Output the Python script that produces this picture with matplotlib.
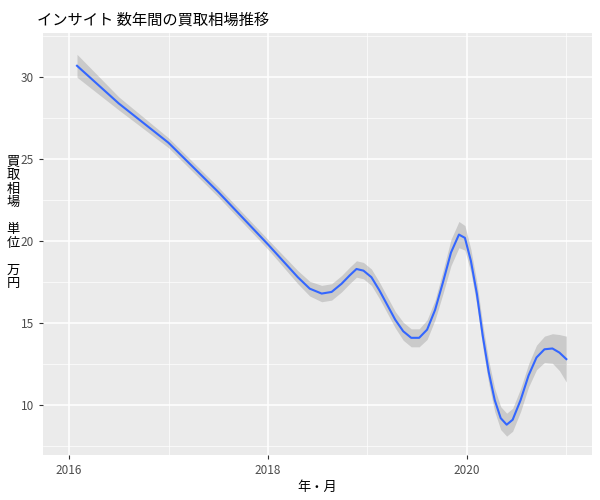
import matplotlib
matplotlib.use("Agg")
import matplotlib.pyplot as plt
from matplotlib.ticker import MultipleLocator

plt.rcParams["font.family"] = ["Noto Sans CJK JP", "DejaVu Sans"]

# smoothed fit (decimal year, price in 万円, CI half-width)
years = [2016.08, 2016.5, 2017.0, 2017.5, 2018.0, 2018.15, 2018.3, 2018.42, 2018.54, 2018.64,
         2018.74, 2018.82, 2018.89, 2018.96, 2019.04, 2019.12, 2019.2, 2019.28, 2019.36,
         2019.44, 2019.52, 2019.6, 2019.68, 2019.76, 2019.84, 2019.92, 2019.98, 2020.04,
         2020.1, 2020.16, 2020.22, 2020.28, 2020.34, 2020.4, 2020.46, 2020.54, 2020.62,
         2020.7, 2020.78, 2020.86, 2020.93, 2021.0]
price = [30.7, 28.4, 26.0, 23.0, 19.8, 18.8, 17.8, 17.1, 16.8, 16.9,
         17.4, 17.9, 18.3, 18.2, 17.8, 17.0, 16.1, 15.2, 14.5,
         14.1, 14.1, 14.6, 15.8, 17.5, 19.3, 20.4, 20.2, 18.8,
         16.8, 14.2, 12.0, 10.3, 9.2, 8.8, 9.1, 10.3, 11.8,
         12.9, 13.4, 13.45, 13.2, 12.8]
half_ci = [0.7, 0.4, 0.3, 0.3, 0.3, 0.35, 0.4, 0.45, 0.5, 0.5,
           0.5, 0.5, 0.5, 0.5, 0.5, 0.5, 0.5, 0.5, 0.55,
           0.55, 0.55, 0.6, 0.6, 0.7, 0.8, 0.8, 0.75, 0.7,
           0.7, 0.7, 0.7, 0.7, 0.7, 0.7, 0.7, 0.7, 0.7,
           0.75, 0.8, 0.9, 1.1, 1.4]

fig, ax = plt.subplots(figsize=(6, 5), dpi=100)
fig.subplots_adjust(left=0.072, right=0.987, top=0.934, bottom=0.09)
ax.set_facecolor("#EBEBEB")

lo = [p - h for p, h in zip(price, half_ci)]
hi = [p + h for p, h in zip(price, half_ci)]
ax.fill_between(years, lo, hi, color="#999999", alpha=0.4, linewidth=0, zorder=2)
ax.plot(years, price, color="#3366FF", linewidth=1.5, zorder=3)

ax.set_xlim(2015.74, 2021.26)
ax.set_ylim(6.95, 32.7)
ax.xaxis.set_major_locator(MultipleLocator(2))
ax.xaxis.set_minor_locator(MultipleLocator(1))
ax.yaxis.set_major_locator(MultipleLocator(5))
ax.yaxis.set_minor_locator(MultipleLocator(2.5))
ax.grid(which="major", color="white", linewidth=1.1, zorder=0)
ax.grid(which="minor", color="white", linewidth=0.5, zorder=0)
ax.set_axisbelow(True)
for s in ax.spines.values():
    s.set_visible(False)
ax.tick_params(which="major", colors="#4D4D4D", labelsize=8.5, length=3, color="#333333")
ax.tick_params(which="minor", length=0)

ax.set_title("インサイト 数年間の買取相場推移", loc="left", fontsize=11, x=-0.012)
ax.set_xlabel("年・月", fontsize=9.5, labelpad=3)
ax.set_ylabel("買\n取\n相\n場\n\n単\n位\n\n万\n円", rotation=0, fontsize=9.5,
              va="center", linespacing=1.05, labelpad=8)
ax.yaxis.set_label_coords(-0.055, 0.55)

fig.savefig("out.png")
